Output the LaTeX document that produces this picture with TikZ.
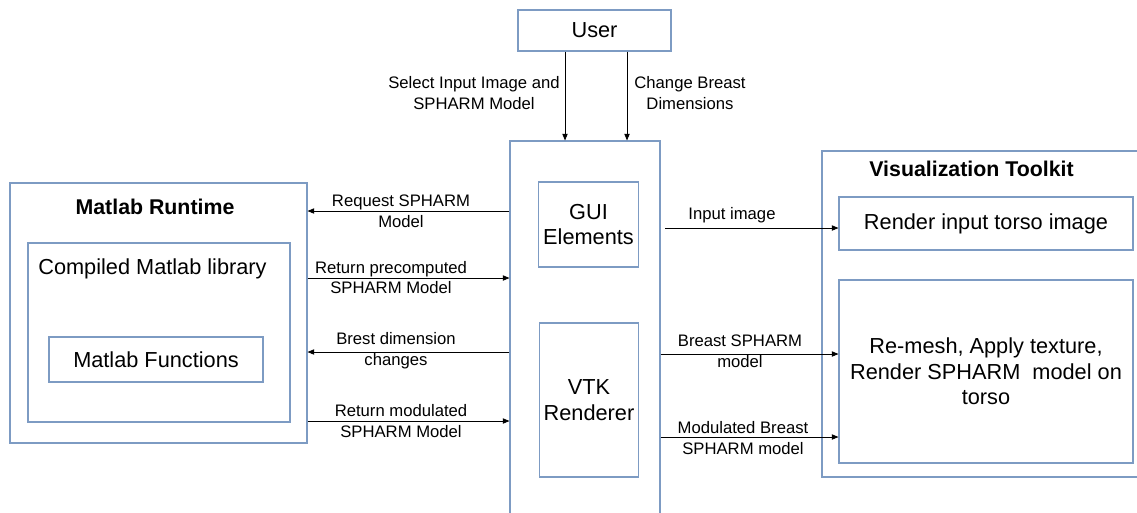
\documentclass[tikz,border=0pt]{standalone}
\usepackage{fontspec}
\setmainfont{Liberation Sans}
\usetikzlibrary{arrows.meta}
\definecolor{boxblue}{RGB}{125,155,195}
\tikzset{
    blk/.style={draw=boxblue,line width=0.8pt,rectangle,align=center,
        font=\fontsize{16.3}{19}\selectfont},
    ttl/.style={font=\fontsize{16}{19}\selectfont\bfseries},
    lbl/.style={align=center,inner sep=0pt,font=\fontsize{12.5}{15.5}\selectfont}
}
\begin{document}
\begin{tikzpicture}[x=0.75pt,y=-0.75pt]
        \useasboundingbox (0,0) rectangle (1137,512);
        \begin{scope}[every node/.style={blk}]
            \node (user) [minimum width=114.75pt,minimum height=30.75pt] at (594.5,30.5) {User};
            \node (ctr) [minimum width=112.5pt,minimum height=291.75pt] at (585,335.5) {};
            \node (gui) [minimum width=72.75pt,minimum height=63.75pt] at (588.5,224.5) {GUI\\Elements};
            \node (vtk) [minimum width=72pt,minimum height=115.5pt] at (589,400) {VTK\\Renderer};
            \node (mr) [minimum width=222.75pt,minimum height=195pt] at (158.5,313) {};
            \node (cml) [minimum width=196.5pt,minimum height=134.25pt] at (159,332.5) {};
            \node (mf) [minimum width=160.5pt,minimum height=33.75pt] at (156,359.5) {Matlab Functions};
            \node (vis) [minimum width=246pt,minimum height=244.5pt] at (986,314) {};
            \node (rin) [minimum width=220.5pt,minimum height=39.75pt] at (986,223.5) {Render input torso image};
            \node (rem) [minimum width=220.5pt,minimum height=137.25pt] at (986,371.5) {Re-mesh, Apply texture,\\Render SPHARM\ \ model on\\torso};
        \end{scope}
        \node (mrtitle) [ttl] at (155,207) {Matlab Runtime};
        \node (cmltext) [font=\fontsize{16.3}{19}\selectfont] at (152.5,269) {Compiled Matlab library};
        \node (vistitle) [ttl] at (971.5,169) {Visualization Toolkit};
        \begin{scope}[every node/.style={lbl}]
            \node (l1) at (474,93) {Select Input Image and\\SPHARM Model};
            \node (l2) at (690,93) {Change Breast\\Dimensions};
            \node (l3) at (401,211) {Request SPHARM\\Model};
            \node (l4) at (391,277.5) {Return precomputed\\SPHARM Model};
            \node (l5) at (396,351) {Brest dimension\\changes};
            \node (l6) at (401,421) {Return modulated\\SPHARM Model};
            \node (l7) at (732,215) {Input image};
            \node (l8) at (740,351) {Breast SPHARM\\model};
            \node (l9) at (743,438) {Modulated Breast\\SPHARM model};
        \end{scope}
        \begin{scope}[every edge/.style={draw,line width=0.6pt,-{Triangle[length=5pt,width=4pt]}}]
            \path
                (user.south -| 565,0) edge (ctr.north -| 565,0)
                (user.south -| 627,0) edge (ctr.north -| 627,0)
                (ctr.west |- 0,211) edge (mr.east |- 0,211)
                (mr.east |- 0,278) edge (ctr.west |- 0,278)
                (ctr.west |- 0,352) edge (mr.east |- 0,352)
                (mr.east |- 0,421) edge (ctr.west |- 0,421)
                (665,228) edge (rin.west |- 0,228)
                (ctr.east |- 0,354) edge (rem.west |- 0,354)
                (ctr.east |- 0,437) edge (rem.west |- 0,437);
        \end{scope}
    \end{tikzpicture}
\end{document}
